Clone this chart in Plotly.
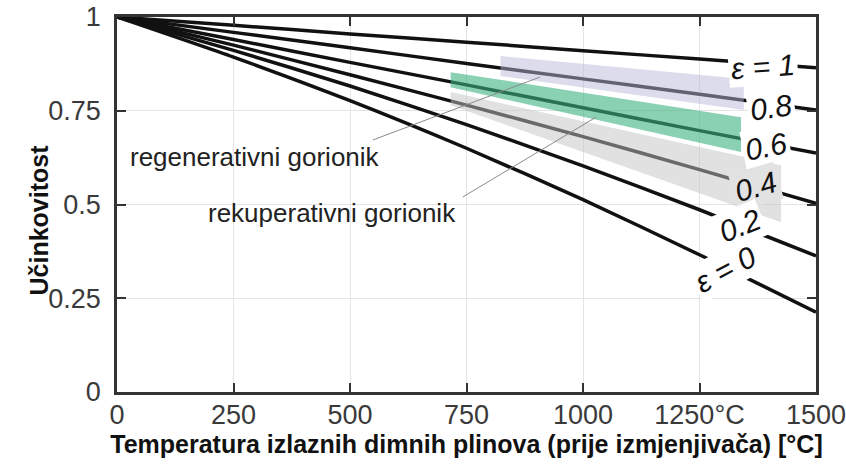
"""Efficiency vs. flue gas temperature for several heat-recovery ratios."""

import plotly.graph_objects as go

# flue gas temperature before the heat exchanger [°C]
temps = [0, 250, 500, 750, 1000, 1250, 1500]

# efficiency curves, one per recovery ratio epsilon
eff_e1 = [1.0, 0.978, 0.955, 0.933, 0.910, 0.888, 0.865]
eff_e08 = [1.0, 0.959, 0.918, 0.876, 0.835, 0.794, 0.752]
eff_e06 = [1.0, 0.940, 0.879, 0.819, 0.758, 0.697, 0.637]
eff_e04 = [1.0, 0.925, 0.846, 0.765, 0.681, 0.593, 0.503]
eff_e02 = [1.0, 0.911, 0.816, 0.713, 0.603, 0.486, 0.363]
eff_e0 = [1.0, 0.893, 0.777, 0.650, 0.513, 0.366, 0.213]

curve_labels = ["ε = 1", "0.8", "0.6", "0.4", "0.2", "ε = 0"]
label_temp = [1386, 1403, 1393, 1371, 1337, 1305]
label_eff = [0.869, 0.760, 0.656, 0.547, 0.445, 0.328]

# operating ranges of the burner types (start/end temperature, top/bottom efficiency)
regen_x = [823, 1345]
regen_top = [0.896, 0.835]
regen_bot = [0.843, 0.752]

recup_x = [716, 1339]
recup_top = [0.853, 0.733]
recup_bot = [0.813, 0.640]

grey_x = [716, 1425]
grey_top = [0.800, 0.605]
grey_bot = [0.765, 0.453]

x_ticks = [0, 250, 500, 750, 1000, 1250, 1500]
x_tick_text = ["0", "250", "500", "750", "1000", "1250°C", "1500"]
y_ticks = [0, 0.25, 0.5, 0.75, 1]
y_tick_text = ["0", "0.25", "0.5", "0.75", "1"]

FONT = "Liberation Sans, Arial, sans-serif"


def band_trace(xs, top, bot, color):
    return go.Scatter(
        x=[xs[0], xs[1], xs[1], xs[0], xs[0]],
        y=[top[0], top[1], bot[1], bot[0], top[0]],
        mode="lines",
        fill="toself",
        fillcolor=color,
        line={"width": 0},
        hoverinfo="skip",
        showlegend=False,
    )


fig = go.Figure()

for series in [eff_e1, eff_e08, eff_e06, eff_e04, eff_e02, eff_e0]:
    fig.add_trace(
        go.Scatter(
            x=temps,
            y=series,
            mode="lines",
            line={"color": "#111111", "width": 3.5, "shape": "spline", "smoothing": 0.6},
            hoverinfo="skip",
            showlegend=False,
        )
    )

# translucent bands laid over the curves (lines show through as grey)
fig.add_trace(band_trace(grey_x, grey_top, grey_bot, "rgba(196,196,196,0.5)"))
fig.add_trace(band_trace(regen_x, regen_top, regen_bot, "rgba(184,184,216,0.49)"))
fig.add_trace(band_trace(recup_x, recup_top, recup_bot, "rgba(60,178,130,0.6)"))

angles = [-4, -8, -11, -16, -22, -28]
for i, text in enumerate(curve_labels):
    bg = "#e2e2e2" if text == "0.4" else "white"
    fig.add_annotation(
        x=label_temp[i],
        y=label_eff[i],
        text=text,
        showarrow=False,
        textangle=angles[i],
        bgcolor=bg,
        borderpad=2,
        font={"family": FONT, "size": 30, "color": "#111111", "style": "italic"},
    )

# burner labels with thin leader lines into their bands
fig.add_annotation(
    x=0.016, xref="paper", y=0.627, text="regenerativni gorionik",
    showarrow=False, xanchor="left",
    font={"family": FONT, "size": 26, "color": "#222222"},
)
fig.add_annotation(
    x=0.488, xref="paper", y=0.477, text="rekuperativni gorionik",
    showarrow=False, xanchor="right",
    font={"family": FONT, "size": 26, "color": "#222222"},
)
fig.add_shape(type="line", x0=549, y0=0.672, x1=908, y1=0.840,
              line={"color": "#8a8a8a", "width": 1})
fig.add_shape(type="line", x0=742, y0=0.520, x1=1028, y1=0.733,
              line={"color": "#8a8a8a", "width": 1})

# y axis title sits a little below the middle of the plot in the original
fig.add_annotation(
    x=-0.135, xref="paper", y=0.459, yref="paper", text="<b>Učinkovitost</b>",
    showarrow=False, textangle=-90,
    font={"family": FONT, "size": 25, "color": "#111111"},
)

axis_common = dict(
    showline=True,
    linecolor="#333333",
    linewidth=2.5,
    mirror="ticks",
    ticks="inside",
    ticklen=9,
    tickwidth=2,
    tickcolor="#333333",
    showgrid=True,
    gridcolor="#e4e4e4",
    gridwidth=1,
    zeroline=False,
    automargin=False,
    ticklabeloverflow="allow",
    tickfont={"family": FONT, "size": 27, "color": "#3a3a3a"},
)

fig.update_xaxes(
    range=[0, 1500],
    tickvals=x_ticks,
    ticktext=x_tick_text,
    ticklabelstandoff=-3,
    title={"text": "<b>Temperatura izlaznih dimnih plinova (prije izmjenjivača) [°C]</b>",
           "font": {"family": FONT, "size": 25, "color": "#111111"}, "standoff": 6},
    **axis_common,
)
fig.update_yaxes(
    range=[0, 1],
    tickvals=y_ticks,
    ticktext=y_tick_text,
    ticklabelstandoff=8,
    **axis_common,
)

fig.update_layout(
    width=846,
    height=470,
    template="plotly_white",
    plot_bgcolor="white",
    paper_bgcolor="white",
    margin={"l": 117, "r": 30, "t": 17, "b": 78},
    showlegend=False,
)

# drop the browser's default 8px body margin so the figure fills the window
fig.write_html(
    "out.html",
    config={"displayModeBar": False},
    post_script="document.body.style.margin='0';",
)
